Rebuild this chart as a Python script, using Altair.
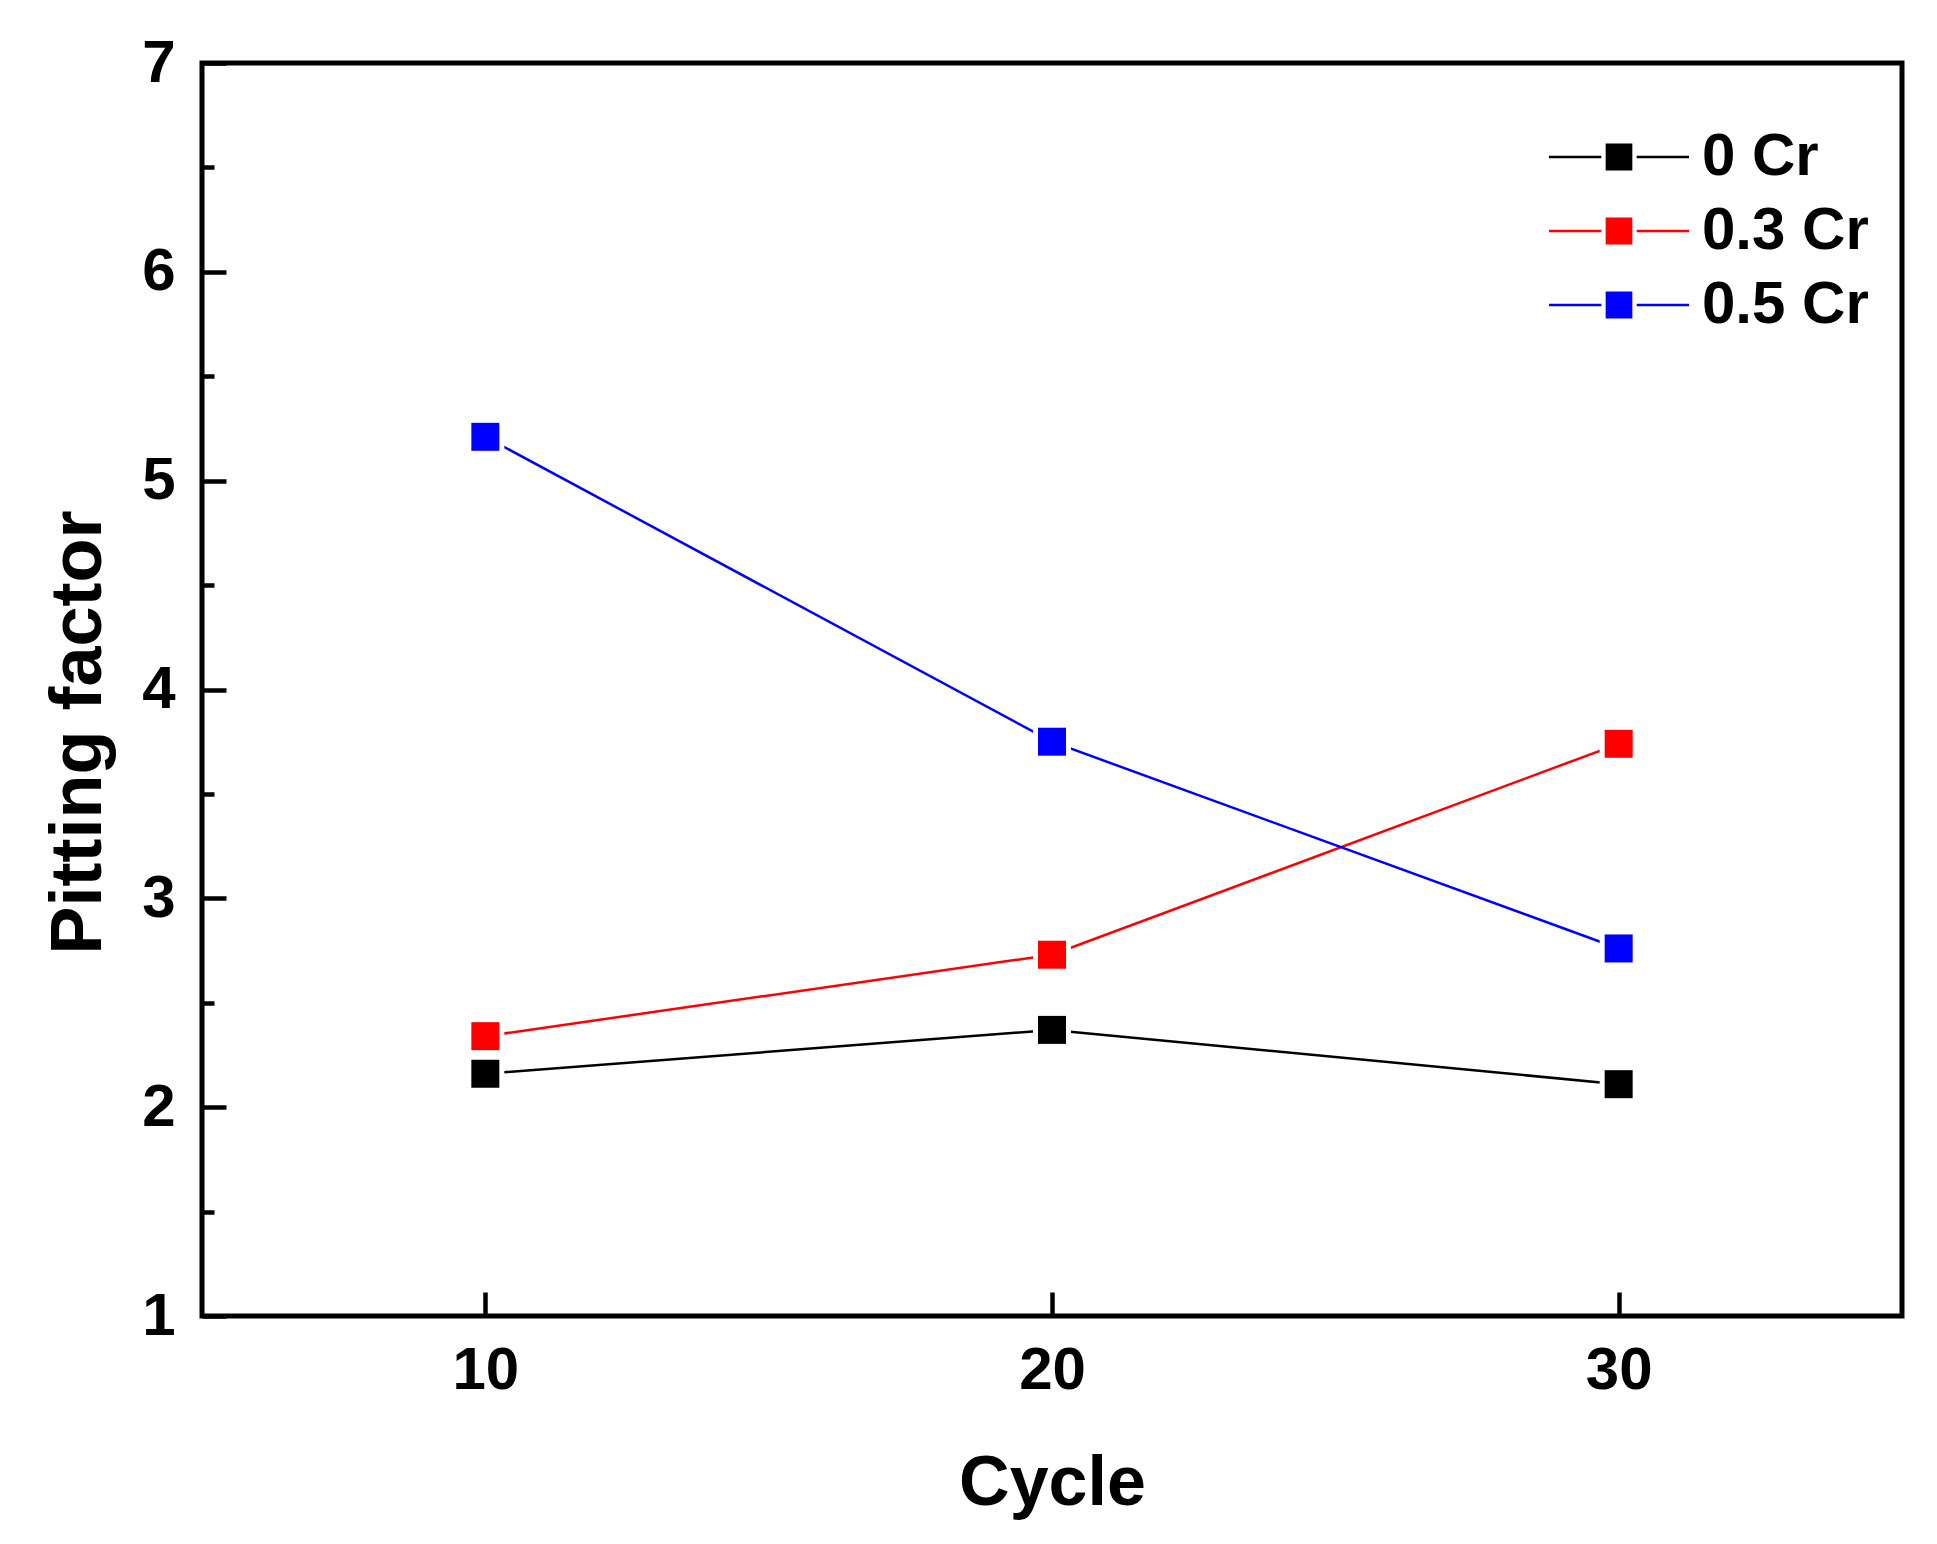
import altair as alt
import pandas as pd

cycles = [10, 20, 30]
series_names = ["0 Cr", "0.3 Cr", "0.5 Cr"]
cr0 = [2.16, 2.37, 2.11]
cr03 = [2.34, 2.73, 3.74]
cr05 = [5.21, 3.75, 2.76]
colors = ["#000000", "#ff0000", "#0000ff"]
y_major = [1, 2, 3, 4, 5, 6, 7]
y_minor = [1.5, 2.5, 3.5, 4.5, 5.5, 6.5]
x_ticks = [10, 20, 30]

rows = []
for name, vals in zip(series_names, [cr0, cr03, cr05]):
    for c, v in zip(cycles, vals):
        rows.append({"Cycle": c, "Pitting factor": v, "Series": name})
df = pd.DataFrame(rows)

FONT = "Liberation Sans"
W, H = 1700, 1253

# legend glyph: line - square - line (square drawn as dense strokes so it is solid either way)
hatch = "".join("M-0.92,%.3fH0.92" % (-0.85 + i * 1.7 / 11) for i in range(12))
legend_path = "M-4.83,0H-1.22M1.22,0H4.83" + hatch
legend = alt.Legend(
    title=None,
    orient="none",
    legendX=1387,
    legendY=64,
    padding=0,
    symbolType=legend_path,
    symbolSize=841,
    symbolStrokeWidth=2.5,
    labelFont=FONT,
    labelFontSize=60,
    labelFontWeight="bold",
    labelColor="black",
    labelOffset=53,
    rowPadding=14,
    labelLimit=500,
)

color = alt.Color("Series:N", scale=alt.Scale(domain=series_names, range=colors), legend=legend)

x_enc = alt.X(
    "Cycle:Q",
    scale=alt.Scale(domain=[5, 35], nice=False, zero=False),
    axis=alt.Axis(
        values=x_ticks, format="d", title="Cycle", domain=False, grid=False,
        tickSize=24, tickWidth=4.5, tickColor="black", offset=-24,
        labelFont=FONT, labelFontSize=60, labelFontWeight="bold", labelColor="black",
        labelPadding=25, labelFlush=False, labelOverlap=False,
        titleFont=FONT, titleFontSize=70, titleFontWeight="bold", titleColor="black",
        titleBaseline="alphabetic", titleAlign="center", titleX=W / 2, titleY=212,
    ),
)

y_major_axis = alt.Axis(
    values=y_major, format="d", title="Pitting factor", domain=False, grid=False, orient="left",
    tickSize=24, tickWidth=4.5, tickColor="black", offset=-24,
    labelFont=FONT, labelFontSize=60, labelFontWeight="bold", labelColor="black",
    labelPadding=27, labelFlush=False, labelOverlap=False,
    titleFont=FONT, titleFontSize=72, titleFontWeight="bold", titleColor="black",
    titleAngle=270, titleBaseline="alphabetic", titleAlign="center", titleX=-126, titleY=669,
)
y_minor_axis = alt.Axis(
    values=y_minor, title=None, domain=False, grid=False, orient="left", labels=False,
    tickSize=12, tickWidth=4.5, tickColor="black", offset=-12,
)
y_scale = alt.Scale(domain=[1, 7], nice=False, zero=False)

lines = alt.Chart(df).mark_line(strokeWidth=2.5).encode(
    x=x_enc,
    y=alt.Y("Pitting factor:Q", scale=y_scale, axis=y_major_axis),
    color=color,
    order=alt.Order("Cycle:Q"),
)
halo = alt.Chart(df).mark_square(size=1444, opacity=1, color="white").encode(
    x=x_enc,
    y=alt.Y("Pitting factor:Q", scale=y_scale, axis=y_minor_axis),
)
points = alt.Chart(df).mark_square(size=784, opacity=1).encode(
    x=x_enc,
    y=alt.Y("Pitting factor:Q", scale=y_scale, axis=None),
    color=color,
)

chart = alt.layer(lines, halo, points).resolve_axis(y="independent").resolve_scale(y="shared").properties(
    width=W, height=H,
    background="white",
    autosize=alt.AutoSizeParams(type="none"),
    padding={"left": 194, "top": 55, "right": 25, "bottom": 215},
).configure_view(stroke="black", strokeWidth=5)

chart.save("out.html", embed_options={"renderer": "svg", "actions": False})
